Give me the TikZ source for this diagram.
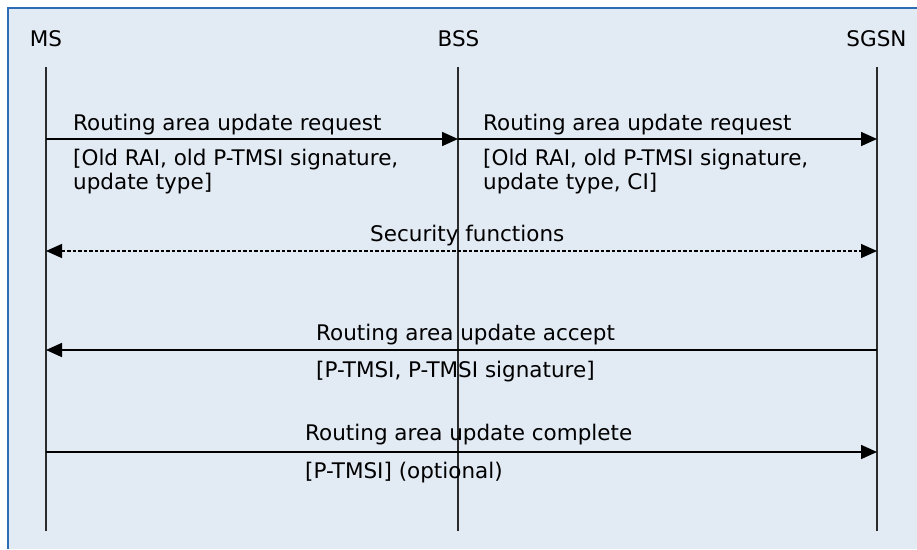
\documentclass[tikz,border=0pt]{standalone}
\usepackage{fontspec}
\setmainfont{DejaVu Sans}
\usetikzlibrary{arrows.meta}
\usetikzlibrary{positioning}
\definecolor{panelbg}{HTML}{E2EAF4}
\definecolor{panelrule}{HTML}{2D6DB4}
\definecolor{lifegray}{HTML}{2B2B2B}

\begin{document}
\begin{tikzpicture}[x=1pt,y=-1pt,
    lifeline/.style={line width=1.8pt, lifegray},
    msg/.style={line width=1.6pt, -{Triangle[length=16pt,width=14pt]}},
    secmsg/.style={line width=1.4pt, dash pattern=on 3.5pt off 2pt,
        {Triangle[length=16pt,width=14pt]}-{Triangle[length=16pt,width=14pt]}},
    entity/.style={inner sep=0pt, anchor=base},
    msglabel/.style={inner sep=0pt, anchor=base west, align=left},
    font=\fontsize{21.5}{24}\selectfont]
  \useasboundingbox (0,0) rectangle (917,549);
  \fill[panelbg] (7,7) rectangle (917,549);
  \draw[panelrule, line width=2pt] (8,549) -- (8,8) -- (917,8);

  % entities
  \node[entity] (ms) at (46,46) {MS};
  \node[entity] (bss) at (458.5,46) {BSS};
  \node[entity] (sgsn) at (876.5,46) {SGSN};

  % lifelines and message points
  \foreach \name/\x in {ms/46, bss/458, sgsn/877} {
    \coordinate (\name-top) at (\x,67);
    \coordinate (\name-end) at (\x,531);
    \draw[lifeline] (\name-top) -- (\name-end);
    \foreach \msgname/\y in {req/139, sec/251, acc/350, cmp/452}
      \coordinate (\name-\msgname) at (\x,\y);
  }

  % messages
  \draw[msg] (ms-req) -- (bss-req);
  \draw[msg] (bss-req) -- (sgsn-req);
  \draw[secmsg] (ms-sec) -- (sgsn-sec);
  \draw[msg] (sgsn-acc) -- (ms-acc);
  \draw[msg] (ms-cmp) -- (sgsn-cmp);

  % labels (two-line ones sit on the baseline of their last line)
  \node[msglabel] (req-ms) at (73,130) {Routing area update request};
  \node[msglabel] (req-ms-par) at (73,189) {[Old RAI, old P-TMSI signature,\\update type]};
  \node[msglabel] (req-bss) at (483,130) {Routing area update request};
  \node[msglabel] (req-bss-par) at (483,189) {[Old RAI, old P-TMSI signature,\\update type, CI]};
  \node[msglabel] (sec-lbl) at (370,241) {Security functions};
  \node[msglabel] (acc-lbl) at (316,340) {Routing area update accept};
  \node[msglabel] (acc-par) at (316,377) {[P-TMSI, P-TMSI signature]};
  \node[msglabel] (cmp-lbl) at (305,440) {Routing area update complete};
  \node[msglabel] (cmp-par) at (305,478) {[P-TMSI] (optional)};
\end{tikzpicture}
\end{document}
